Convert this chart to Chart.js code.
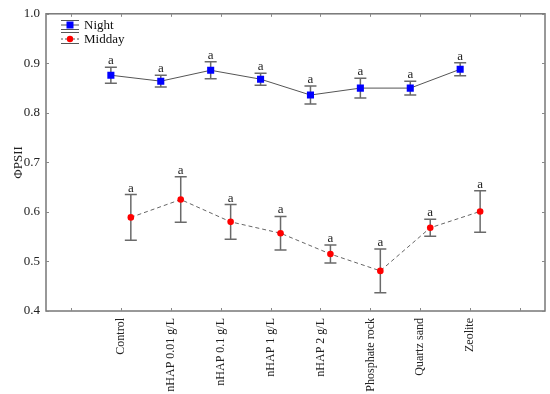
<!DOCTYPE html>
<html>
<head>
<meta charset="utf-8">
<script src="https://cdn.jsdelivr.net/npm/chart.js@4/dist/chart.umd.min.js"></script>
<style>
  html, body { margin: 0; padding: 0; background: #fff; }
  #wrap { width: 550px; height: 394px; }
</style>
</head>
<body>
<div id="wrap"><canvas id="c"></canvas></div>
<script>
'use strict';

const categories = ['Control', 'nHAP 0.01 g/L', 'nHAP 0.1 g/L', 'nHAP 1 g/L', 'nHAP 2 g/L', 'Phosphate rock', 'Quartz sand', 'Zeolite'];
const nightMean = [0.876, 0.864, 0.886, 0.868, 0.836, 0.850, 0.850, 0.888];
const nightErr = [0.016, 0.012, 0.017, 0.012, 0.018, 0.020, 0.014, 0.013];
const middayMean = [0.589, 0.625, 0.580, 0.557, 0.515, 0.481, 0.568, 0.601];
const middayErr = [0.046, 0.046, 0.035, 0.034, 0.018, 0.044, 0.017, 0.042];
const nightLetters = ['a', 'a', 'a', 'a', 'a', 'a', 'a', 'a'];
const middayLetters = ['a', 'a', 'a', 'a', 'a', 'a', 'a', 'a'];
const yTicks = [0.4, 0.5, 0.6, 0.7, 0.8, 0.9, 1.0];
const xTicks = [-1, 0, 1, 2, 3, 4, 5, 6, 7, 8];

const SERIF = '"Liberation Serif", "Times New Roman", serif';
const GREY = '#6a6a6a';

// series are dodged a little either side of the category tick
const series = [
  { label: 'Night', mean: nightMean, err: nightErr, letters: nightLetters, shift: -0.2 },
  { label: 'Midday', mean: middayMean, err: middayErr, letters: middayLetters, shift: 0.2 }
];

const errorBars = {
  id: 'errorBars',
  beforeDatasetsDraw(chart) {
    const { ctx, scales: { x, y } } = chart;
    ctx.save();
    ctx.strokeStyle = GREY;
    ctx.lineWidth = 1.5;
    ctx.fillStyle = '#222';
    ctx.font = '13px ' + SERIF;
    ctx.textAlign = 'center';
    ctx.textBaseline = 'alphabetic';
    series.forEach(s => {
      s.mean.forEach((m, i) => {
        const px = x.getPixelForValue(i + s.shift);
        const top = y.getPixelForValue(m + s.err[i]);
        const bot = y.getPixelForValue(m - s.err[i]);
        ctx.beginPath();
        ctx.moveTo(px, top); ctx.lineTo(px, bot);
        ctx.moveTo(px - 6, top); ctx.lineTo(px + 6, top);
        ctx.moveTo(px - 6, bot); ctx.lineTo(px + 6, bot);
        ctx.stroke();
        ctx.fillText(s.letters[i], px, top - 3);
      });
    });
    ctx.restore();
  }
};

const frame = {
  id: 'frame',
  afterDraw(chart) {
    const { ctx, chartArea: a, scales: { x, y } } = chart;
    ctx.save();
    ctx.strokeStyle = '#777';
    ctx.lineWidth = 1.5;
    ctx.strokeRect(a.left, a.top, a.right - a.left, a.bottom - a.top);
    ctx.lineWidth = 1;
    ctx.strokeStyle = '#888';
    ctx.beginPath();
    xTicks.forEach(v => {
      const px = Math.round(x.getPixelForValue(v)) + 0.5;
      ctx.moveTo(px, a.bottom); ctx.lineTo(px, a.bottom - 3);
      ctx.moveTo(px, a.top); ctx.lineTo(px, a.top + 3);
    });
    yTicks.forEach(v => {
      const py = Math.round(y.getPixelForValue(v)) + 0.5;
      ctx.moveTo(a.left, py); ctx.lineTo(a.left + 3, py);
      ctx.moveTo(a.right, py); ctx.lineTo(a.right - 3, py);
    });
    ctx.stroke();

    // legend box in the upper left corner
    const lx = 61, lw = 18;
    ctx.strokeStyle = '#555';
    ctx.lineWidth = 1;
    ctx.beginPath();
    [20.5, 29.5, 32.5, 43.5].forEach(ly => { ctx.moveTo(lx, ly); ctx.lineTo(lx + lw, ly); });
    ctx.moveTo(lx, 25); ctx.lineTo(lx + lw, 25);
    ctx.stroke();
    ctx.setLineDash([2, 2]);
    ctx.beginPath();
    ctx.moveTo(lx, 39); ctx.lineTo(lx + lw, 39);
    ctx.stroke();
    ctx.setLineDash([]);
    ctx.fillStyle = '#0000ff';
    ctx.fillRect(lx + lw / 2 - 3.5, 21.5, 7, 7);
    ctx.fillStyle = '#ff0000';
    ctx.beginPath();
    ctx.arc(lx + lw / 2, 39, 3.2, 0, Math.PI * 2);
    ctx.fill();
    ctx.fillStyle = '#111';
    ctx.font = '13px ' + SERIF;
    ctx.textAlign = 'left';
    ctx.textBaseline = 'middle';
    ctx.fillText(series[0].label, 84, 25.5);
    ctx.fillText(series[1].label, 84, 39.5);
    ctx.restore();
  }
};

new Chart(document.getElementById('c'), {
  type: 'scatter',
  data: {
    datasets: [
      {
        label: series[0].label,
        data: series[0].mean.map((v, i) => ({ x: i + series[0].shift, y: v })),
        showLine: true,
        borderColor: '#555',
        borderWidth: 1,
        pointStyle: 'rect',
        pointRadius: 5,
        pointBackgroundColor: '#0000ff',
        pointBorderColor: '#0000ff',
        pointBorderWidth: 0
      },
      {
        label: series[1].label,
        data: series[1].mean.map((v, i) => ({ x: i + series[1].shift, y: v })),
        showLine: true,
        borderColor: '#666',
        borderWidth: 1,
        borderDash: [4, 3],
        pointStyle: 'circle',
        pointRadius: 3.3,
        pointBackgroundColor: '#ff0000',
        pointBorderColor: '#ff0000',
        pointBorderWidth: 0
      }
    ]
  },
  options: {
    responsive: true,
    maintainAspectRatio: false,
    animation: false,
    layout: { padding: { top: 8, right: 5 } },
    plugins: { legend: { display: false }, tooltip: { enabled: false } },
    scales: {
      x: {
        type: 'linear',
        min: -1.5,
        max: 8.5,
        grid: { display: false, drawTicks: false },
        border: { display: false },
        afterBuildTicks: s => { s.ticks = xTicks.map(v => ({ value: v })); },
        afterFit: s => { s.height = 83; },
        ticks: {
          autoSkip: false,
          minRotation: 90,
          maxRotation: 90,
          padding: 7,
          color: '#222',
          font: { family: SERIF, size: 12 },
          callback: v => categories[v] ?? ''
        }
      },
      y: {
        min: 0.4,
        max: 1.0,
        grid: { display: false, drawTicks: false },
        border: { display: false },
        afterBuildTicks: s => { s.ticks = yTicks.map(v => ({ value: v })); },
        afterFit: s => { s.width = 46; },
        ticks: {
          padding: 6,
          color: '#222',
          font: { family: SERIF, size: 13 },
          callback: v => v.toFixed(1)
        },
        title: {
          display: true,
          text: 'ΦPSII',
          color: '#222',
          font: { family: SERIF, size: 13 },
          padding: { top: 11, bottom: 0 }
        }
      }
    }
  },
  plugins: [errorBars, frame]
});
</script>
</body>
</html>
